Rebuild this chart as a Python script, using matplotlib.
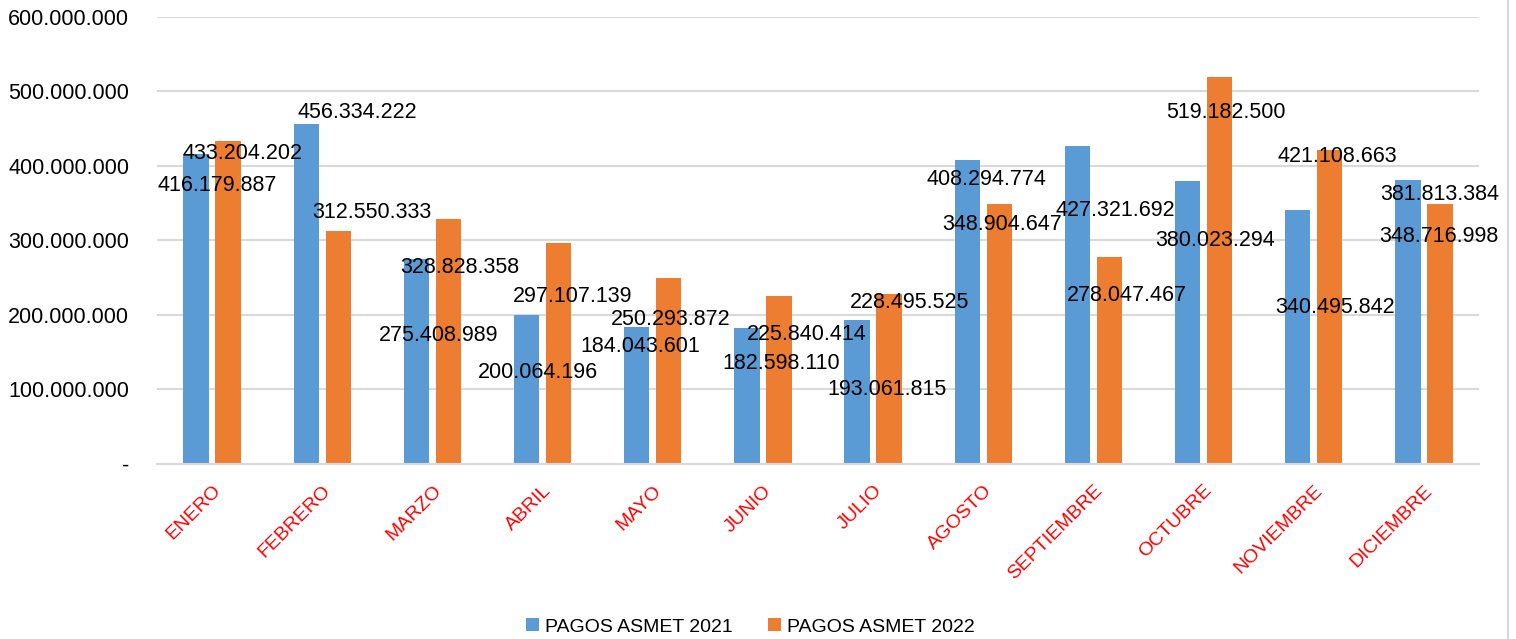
import matplotlib
matplotlib.use("Agg")
import matplotlib.pyplot as plt
import matplotlib.ticker as mticker
import numpy as np

# data
#####################
meses = ['ENERO', 'FEBRERO', 'MARZO', 'ABRIL', 'MAYO', 'JUNIO', 'JULIO',
         'AGOSTO', 'SEPTIEMBRE', 'OCTUBRE', 'NOVIEMBRE', 'DICIEMBRE']
pagos2021 = [416179887, 456334222, 275408989, 200064196, 184043601, 182598110,
             193061815, 408294774, 427321692, 380023294, 340495842, 381813384]
pagos2022 = [433204202, 312550333, 328828358, 297107139, 250293872, 225840414,
             228495525, 348904647, 278047467, 519182500, 421108663, 348716998]
yticks = [0, 100e6, 200e6, 300e6, 400e6, 500e6, 600e6]

# where the data labels sit (excel placed them a bit randomly), x offset in
# categories, y in millions
lab21_dx = [0.05, 0.32, 0.055, -0.04, -0.116, 0.163, 0.125, 0.03, 0.20, 0.10, 0.19, 0.14]
lab21_y = [376, 475, 174.5, 126, 160, 137, 103, 384, 343.6, 303, 213.4, 365]
lab22_dx = [0.28, 0.45, 0.246, 0.27, 0.165, 0.40, 0.33, 0.17, 0.30, 0.206, 0.21, 0.14]
lab22_y = [419, 340, 266, 227, 197, 176, 220, 323.5, 229.5, 475, 415, 308.7]

azul = '#5B9BD5'
naranja = '#ED7D31'
gris = '#D9D9D9'

def miles(v, pos=None):
    if v == 0:
        return '-'
    return '{:,.0f}'.format(v).replace(',', '.')

plt.rcParams['font.family'] = ['Liberation Sans', 'DejaVu Sans']

fig = plt.figure(figsize=(15.16, 6.39), dpi=100)
ax = fig.add_axes([0.1036, 0.2739, 0.8720, 0.6995])

x = np.arange(len(meses))
w = 0.23
ax.bar(x - 0.145, pagos2021, w, color=azul, label='PAGOS ASMET 2021', zorder=2)
ax.bar(x + 0.145, pagos2022, w, color=naranja, label='PAGOS ASMET 2022', zorder=2)

# labels: y given at the middle of the digits, so drop half a cap height
for i in range(len(meses)):
    ax.annotate(miles(pagos2021[i]), (x[i] + lab21_dx[i], lab21_y[i] * 1e6),
                xytext=(0, -5.4), textcoords='offset points',
                ha='center', va='baseline', fontsize=15.5, color='black', zorder=3)
    ax.annotate(miles(pagos2022[i]), (x[i] + lab22_dx[i], lab22_y[i] * 1e6),
                xytext=(0, -5.4), textcoords='offset points',
                ha='center', va='baseline', fontsize=15.5, color='black', zorder=3)

ax.set_xlim(-0.5, len(meses) - 0.5)
ax.set_ylim(0, 600e6)
ax.set_yticks(yticks)
ax.yaxis.set_major_formatter(mticker.FuncFormatter(miles))
ax.tick_params(axis='y', length=0, pad=20, labelsize=15.5)
ax.tick_params(axis='x', length=0, pad=13)
ax.set_xticks(x)
ax.set_xticklabels(meses, rotation=45, ha='right', va='top', rotation_mode='anchor',
                   fontsize=14, color='red')
ax.grid(axis='y', color=gris, linewidth=1.5, zorder=0)
ax.set_axisbelow(True)
for s in ['top', 'right', 'left']:
    ax.spines[s].set_visible(False)
ax.spines['bottom'].set_color(gris)
ax.spines['bottom'].set_linewidth(1.5)

# chart border on the right
fig.add_artist(plt.Line2D([0.9947, 0.9947], [0, 1], color=gris, linewidth=1.5))

fig.legend(loc='center', bbox_to_anchor=(0.495, 0.019), ncol=2, frameon=False,
           fontsize=14, handlelength=0.67, handleheight=0.67, handletextpad=0.3,
           columnspacing=1.8, borderpad=0)

plt.savefig('out.png', dpi=100)
